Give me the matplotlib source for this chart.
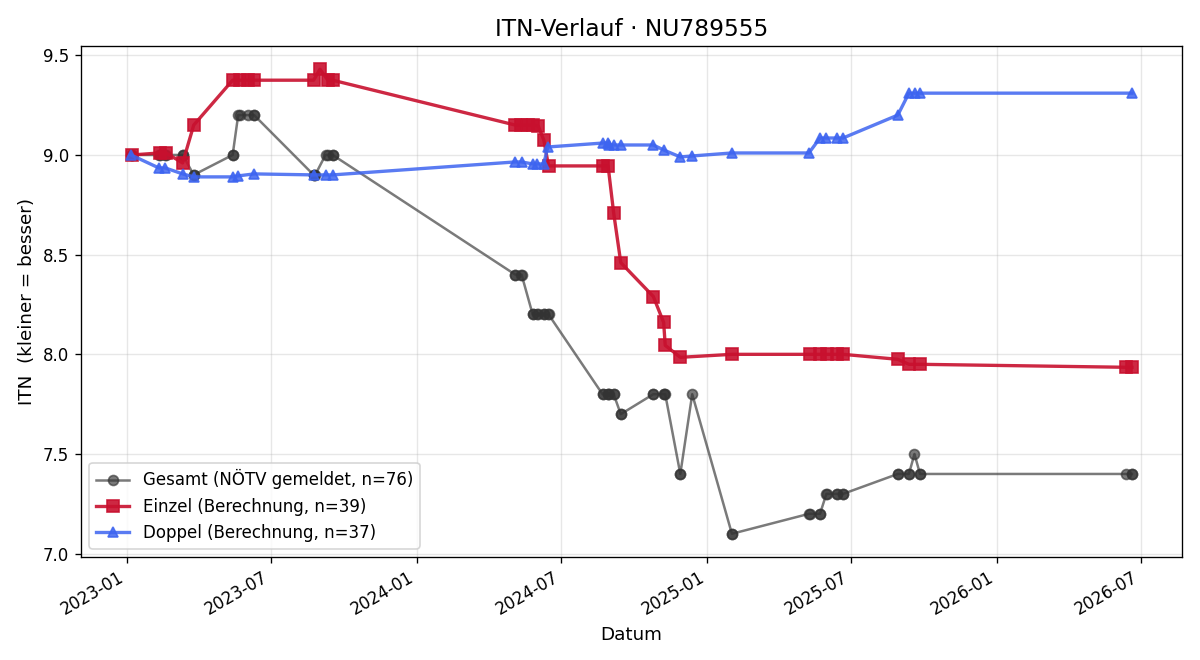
import matplotlib
matplotlib.use("Agg")
import matplotlib.pyplot as plt
import matplotlib.dates as mdates
import pandas as pd

# ---- data ----
gesamt_dates = [
    "2023-01-06", "2023-01-07", "2023-01-07", "2023-02-10", "2023-02-11", "2023-02-18", "2023-02-19",
    "2023-03-12", "2023-03-12", "2023-03-26", "2023-03-26", "2023-05-14", "2023-05-14",
    "2023-05-21", "2023-05-23", "2023-06-02", "2023-06-10", "2023-06-10",
    "2023-08-24", "2023-08-24", "2023-08-26", "2023-09-08", "2023-09-11", "2023-09-17", "2023-09-17",
    "2024-05-04", "2024-05-04", "2024-05-11", "2024-05-12",
    "2024-05-26", "2024-05-27", "2024-06-01", "2024-06-02", "2024-06-09", "2024-06-09", "2024-06-14", "2024-06-15",
    "2024-08-22", "2024-08-23", "2024-08-29", "2024-08-29", "2024-08-30", "2024-09-05", "2024-09-05",
    "2024-09-14", "2024-09-14", "2024-10-25", "2024-10-25", "2024-11-07", "2024-11-07", "2024-11-09",
    "2024-11-28", "2024-11-28", "2024-12-13", "2025-02-01", "2025-02-01",
    "2025-05-09", "2025-05-11", "2025-05-23", "2025-05-23", "2025-05-31", "2025-06-01",
    "2025-06-14", "2025-06-14", "2025-06-21", "2025-06-21",
    "2025-08-29", "2025-08-29", "2025-09-12", "2025-09-12", "2025-09-19", "2025-09-26", "2025-09-26",
    "2026-06-13", "2026-06-20", "2026-06-20",
]
gesamt_values = [
    9.0, 9.0, 9.0, 9.0, 9.0, 9.0, 9.0,
    9.0, 9.0, 8.9, 8.9, 9.0, 9.0,
    9.2, 9.2, 9.2, 9.2, 9.2,
    8.9, 8.9, 8.9, 9.0, 9.0, 9.0, 9.0,
    8.4, 8.4, 8.4, 8.4,
    8.2, 8.2, 8.2, 8.2, 8.2, 8.2, 8.2, 8.2,
    7.8, 7.8, 7.8, 7.8, 7.8, 7.8, 7.8,
    7.7, 7.7, 7.8, 7.8, 7.8, 7.8, 7.8,
    7.4, 7.4, 7.8, 7.1, 7.1,
    7.2, 7.2, 7.2, 7.2, 7.3, 7.3,
    7.3, 7.3, 7.3, 7.3,
    7.4, 7.4, 7.4, 7.4, 7.5, 7.4, 7.4,
    7.4, 7.4, 7.4,
]

einzel_dates = [
    "2023-01-07", "2023-02-11", "2023-02-19", "2023-03-12", "2023-03-26",
    "2023-05-14", "2023-05-23", "2023-06-02", "2023-06-10",
    "2023-08-24", "2023-09-01", "2023-09-11", "2023-09-17",
    "2024-05-04", "2024-05-11", "2024-05-20", "2024-05-27", "2024-06-02", "2024-06-09", "2024-06-15",
    "2024-08-22", "2024-08-29", "2024-09-05", "2024-09-14", "2024-10-25", "2024-11-07", "2024-11-09",
    "2024-11-28", "2025-02-01",
    "2025-05-11", "2025-05-23", "2025-06-01", "2025-06-14", "2025-06-21",
    "2025-08-29", "2025-09-12", "2025-09-26", "2026-06-13", "2026-06-20",
]
einzel_values = [
    9.0, 9.01, 9.01, 8.96, 9.15,
    9.375, 9.375, 9.375, 9.375,
    9.375, 9.43, 9.375, 9.375,
    9.15, 9.15, 9.15, 9.15, 9.145, 9.075, 8.945,
    8.945, 8.945, 8.71, 8.46, 8.29, 8.16, 8.045,
    7.985, 8.0,
    8.0, 8.0, 8.0, 8.0, 8.0,
    7.975, 7.95, 7.95, 7.935, 7.935,
]

doppel_dates = [
    "2023-01-06", "2023-02-10", "2023-02-18", "2023-03-12", "2023-03-26",
    "2023-05-14", "2023-05-21", "2023-06-10", "2023-08-24", "2023-09-08", "2023-09-17",
    "2024-05-04", "2024-05-12", "2024-05-26", "2024-06-01", "2024-06-09", "2024-06-14",
    "2024-08-23", "2024-08-29", "2024-08-30", "2024-09-05", "2024-09-14",
    "2024-10-25", "2024-11-07", "2024-11-28", "2024-12-13", "2025-02-01",
    "2025-05-09", "2025-05-23", "2025-05-31", "2025-06-14", "2025-06-21",
    "2025-08-29", "2025-09-12", "2025-09-20", "2025-09-26", "2026-06-20",
]
doppel_values = [
    9.0, 8.935, 8.935, 8.905, 8.89,
    8.89, 8.895, 8.905, 8.9, 8.9, 8.9,
    8.965, 8.965, 8.955, 8.955, 8.955, 9.04,
    9.06, 9.06, 9.05, 9.05, 9.05,
    9.05, 9.025, 8.99, 8.995, 9.01,
    9.01, 9.085, 9.085, 9.085, 9.085,
    9.2, 9.31, 9.31, 9.31, 9.31,
]

title = "ITN-Verlauf · NU789555"
label_gesamt = f"Gesamt (NÖTV gemeldet, n={len(gesamt_values)})"
label_einzel = f"Einzel (Berechnung, n={len(einzel_values)})"
label_doppel = f"Doppel (Berechnung, n={len(doppel_values)})"

# ---- plot ----
fig, ax = plt.subplots(figsize=(10, 5.5), dpi=120)
fig.subplots_adjust(left=81/1200, right=1182/1200, top=1-46/660, bottom=1-557/660)

ax.plot(pd.to_datetime(gesamt_dates), gesamt_values, marker="o", markersize=6,
        linewidth=1.5, color="#333333", alpha=0.65, label=label_gesamt)
ax.plot(pd.to_datetime(einzel_dates), einzel_values, marker="s", markersize=7,
        linewidth=2.0, color="#c8102e", alpha=0.9, label=label_einzel)
ax.plot(pd.to_datetime(doppel_dates), doppel_values, marker="^", markersize=6.5,
        linewidth=2.0, color="#3d64f0", alpha=0.85, label=label_doppel)

ax.set_title(title, fontsize=14)
ax.set_xlabel("Datum", fontsize=11)
ax.set_ylabel("ITN  (kleiner = besser)", fontsize=11)
ax.xaxis.set_major_locator(mdates.MonthLocator(bymonth=[1, 7]))
ax.xaxis.set_major_formatter(mdates.DateFormatter("%Y-%m"))
ax.tick_params(labelsize=10)
ax.grid(True, alpha=0.3)
ax.legend(loc="lower left", fontsize=10)
for lbl in ax.get_xticklabels():
    lbl.set_rotation(30)
    lbl.set_ha("right")
fig.savefig("out.png", dpi=120)
